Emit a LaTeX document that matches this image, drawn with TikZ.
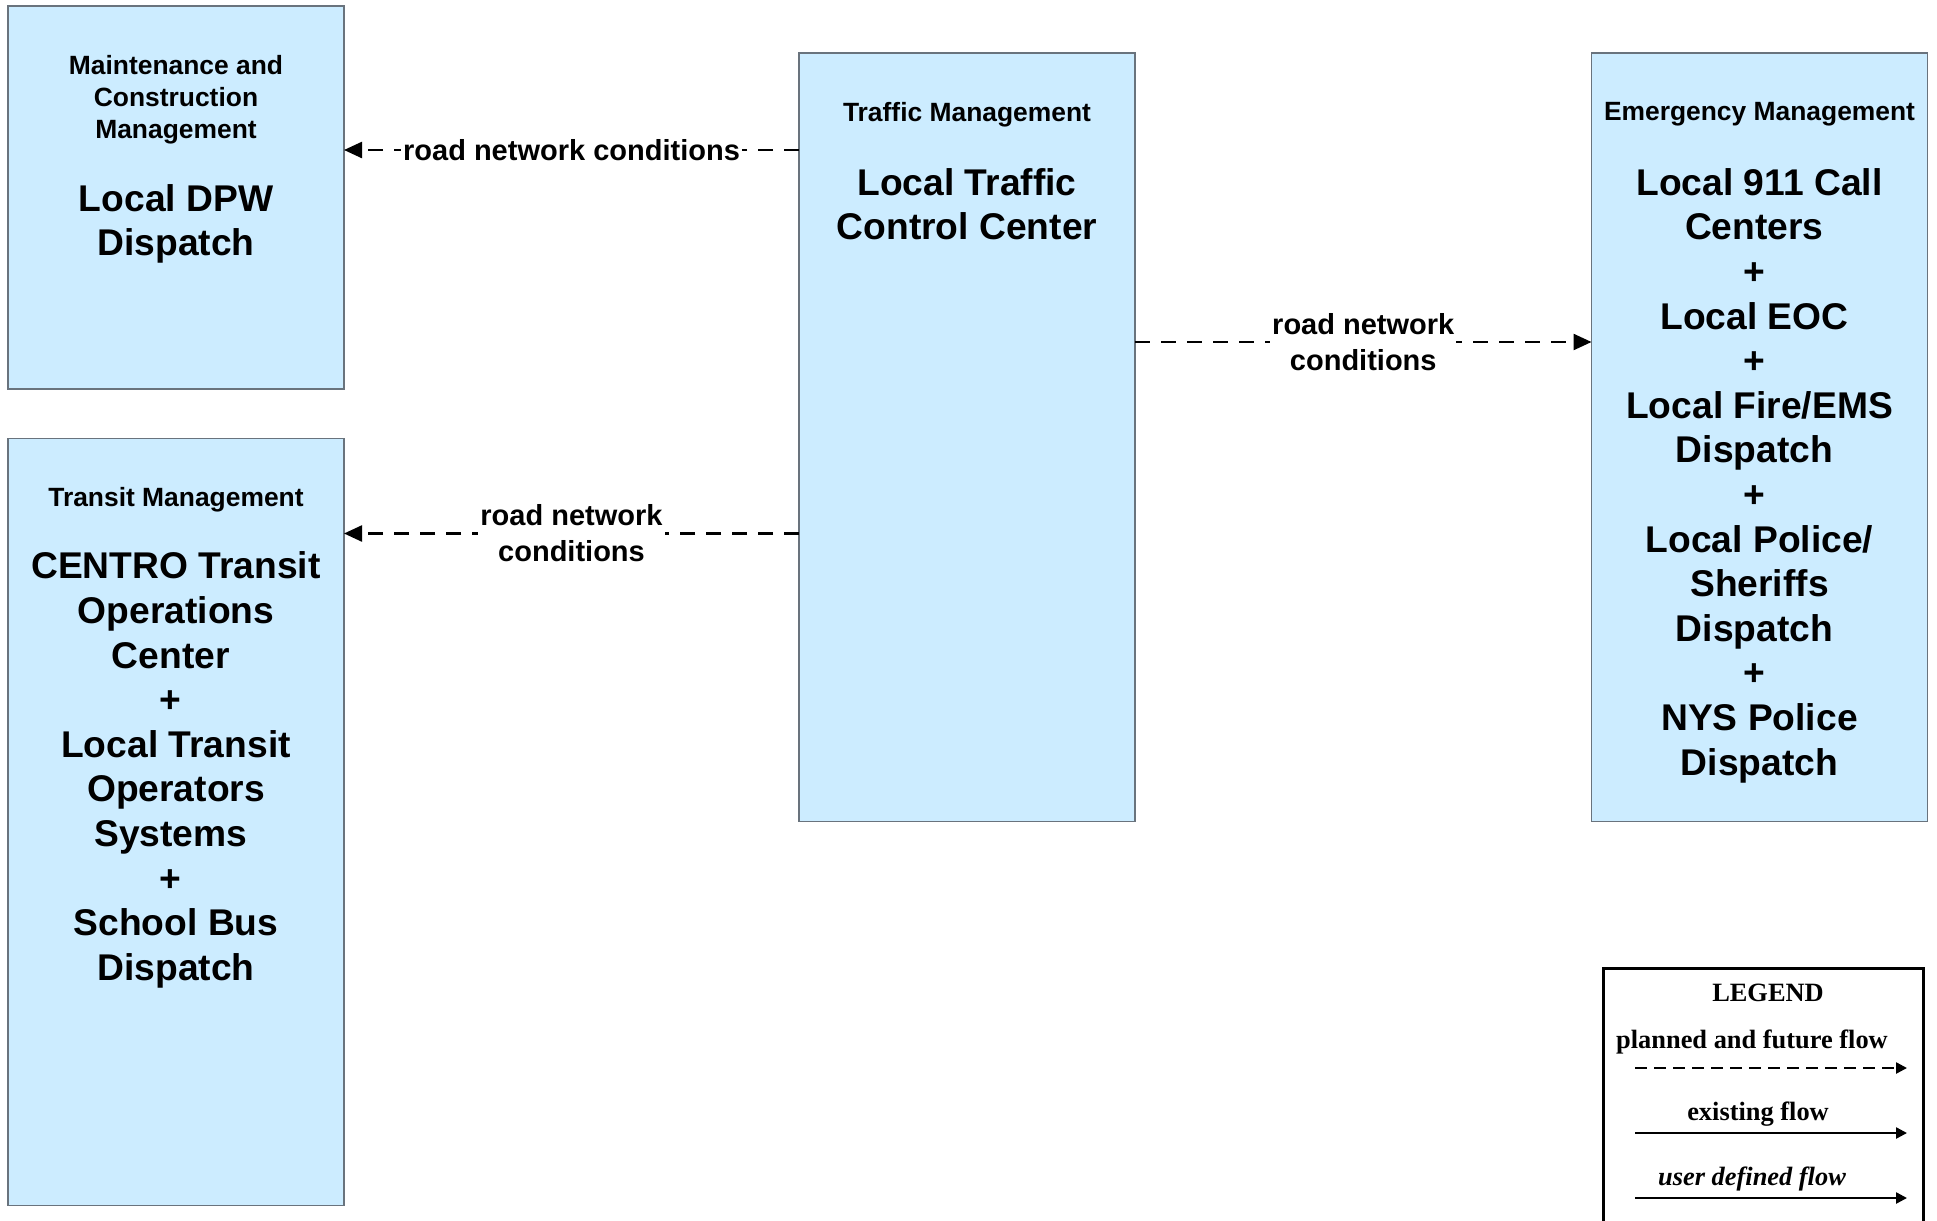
\documentclass[tikz,border=0pt]{standalone}
\usepackage{fontspec}
\setmainfont{Liberation Sans}
\newfontfamily\legendfont{Liberation Serif}
\usetikzlibrary{calc,arrows.meta}
\definecolor{boxfill}{RGB}{204,236,255}
\definecolor{boxline}{RGB}{105,115,125}
\newcommand{\tsp}{\kern0.278em}
\begin{document}
\begin{tikzpicture}[x=0.5pt,y=-0.5pt,
  sysbox/.style={rectangle,draw=boxline,fill=boxfill,line width=0.75pt,inner sep=0pt,outer sep=0pt,minimum width=168pt},
  titletext/.style={inner sep=0pt,align=center,font=\bfseries\fontsize{13.2}{16}\selectfont},
  bodytext/.style={inner sep=0pt,align=center,font=\bfseries\fontsize{18.6}{22.3}\selectfont},
  flow/.style={line width=1.2pt,dash pattern=on 7.5pt off 5.5pt,-{Triangle[length=9pt,width=8pt]}},
  flowlabel/.style={fill=white,inner sep=1pt,align=center,font=\bfseries\fontsize{14.5}{18}\selectfont},
  legtext/.style={inner sep=0pt,font=\legendfont\bfseries\fontsize{13.2}{15}\selectfont},
  legline/.style={line width=1.2pt,-{Triangle[length=5.5pt,width=5.5pt]}}
]
\useasboundingbox (0,0) rectangle (1937,1220);

% boxes
\node[sysbox,minimum height=191.5pt] (mcm) at (176,197.5) {};
\node[sysbox,minimum height=383.5pt] (tm) at (176,822) {};
\node[sysbox,minimum height=384.25pt] (tmc) at (967,437.25) {};
\node[sysbox,minimum height=384.25pt] (em) at (1759.5,437.25) {};

% box texts
\node[titletext,anchor=north] (mcmT) at ($(mcm.north)+(0,49)$) {Maintenance and\\Construction\\Management};
\node[bodytext,anchor=north] (mcmB) at ($(mcm.north)+(0,178)$) {Local DPW\\Dispatch};

\node[titletext,anchor=north] (tmT) at ($(tm.north)+(0,48)$) {Transit Management};
\node[bodytext,anchor=north] (tmB) at ($(tm.north)+(0,113)$) {CENTRO Transit\\Operations\\Center\tsp\\+\tsp\\Local Transit\\Operators\\Systems\tsp\\+\tsp\\School Bus\\Dispatch};

\node[titletext,anchor=north] (tmcT) at ($(tmc.north)+(0,49)$) {Traffic Management};
\node[bodytext,anchor=north] (tmcB) at ($(tmc.north)+(0,115)$) {Local Traffic\\Control Center};

\node[titletext,anchor=north] (emT) at ($(em.north)+(0,49)$) {Emergency Management};
\node[bodytext,anchor=north] (emB) at ($(em.north)+(0,115)$) {Local 911 Call\\Centers\tsp\\+\tsp\\Local EOC\tsp\\+\tsp\\Local Fire/EMS\\Dispatch\tsp\\+\tsp\\Local Police/\\Sheriffs\\Dispatch\tsp\\+\tsp\\NYS Police\\Dispatch};

% flows
\coordinate (f1) at ($(tmc.north west)+(0,97)$);
\draw[flow] (f1) -- (f1 -| mcm.east) node[midway,flowlabel] {road network conditions};
\coordinate (f2) at ($(tmc.north west)+(0,480.5)$);
\draw[flow] (f2) -- (f2 -| tm.east) node[midway,flowlabel] {road network\\conditions};
\coordinate (f3) at ($(tmc.north east)+(0,289)$);
\draw[flow] (f3) -- (f3 -| em.west) node[midway,flowlabel] {road network\\conditions};

% legend
\node[rectangle,draw=black,line width=1.5pt,inner sep=0pt,outer sep=0pt,minimum width=160pt,minimum height=200pt,anchor=north west] (leg) at (1603,968) {};
\node[legtext] (legT) at (1768,993) {LEGEND};
\node[legtext] (legP) at (1752,1042) {planned and future flow};
\coordinate (lpa) at (1635,1068);
\coordinate (lpb) at (1907,1068);
\draw[legline,dash pattern=on 6pt off 3.5pt] (lpa) -- (lpb);
\node[legtext] (legE) at (1758,1114) {existing flow};
\coordinate (lea) at (1635,1133);
\coordinate (leb) at (1907,1133);
\draw[legline] (lea) -- (leb);
\node[legtext,font=\legendfont\bfseries\itshape\fontsize{13.2}{15}\selectfont] (legU) at (1752,1179) {user defined flow};
\coordinate (lua) at (1635,1198);
\coordinate (lub) at (1907,1198);
\draw[legline] (lua) -- (lub);
\end{tikzpicture}
\end{document}
